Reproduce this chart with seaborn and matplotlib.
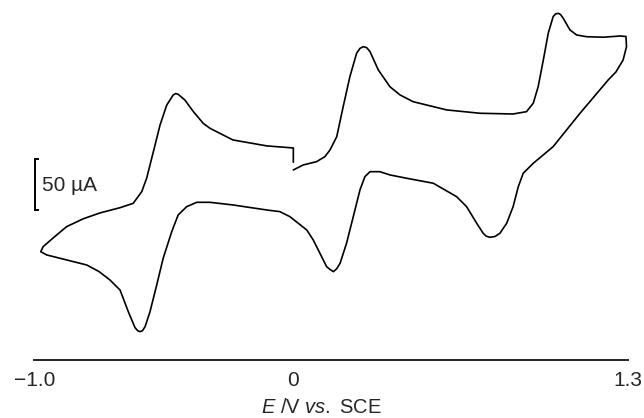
import numpy as np
import pandas as pd
import matplotlib
matplotlib.use("Agg")
import matplotlib.pyplot as plt
import seaborn as sns

# Potential (V vs. SCE) and current (uA), in scan order: start at 0 V, go positive to 1.3 V,
# back to about -0.97 V, then up to 0 V again (pen drop at the end)
E_forward = [0.003, 0.041, 0.093, 0.125, 0.145, 0.171, 0.196, 0.222, 0.248, 0.261,
             0.274, 0.287, 0.300, 0.332, 0.377, 0.416, 0.467, 0.597, 0.726, 0.854,
             0.906, 0.932, 0.951, 0.971, 0.990, 1.009, 1.018, 1.029, 1.038, 1.048,
             1.074, 1.100, 1.139, 1.203, 1.268, 1.291]
I_forward = [29.6, 34.5, 37.8, 42.7, 49.3, 62.4, 92.0, 121.6, 144.7, 149.5,
             151.2, 150.2, 146.3, 128.2, 111.7, 103.6, 96.9, 88.8, 85.5, 84.8,
             87.1, 95.4, 111.7, 138.1, 164.4, 180.8, 183.4, 184.1, 182.8, 179.2,
             167.7, 162.7, 161.0, 160.5, 161.7, 161.2]

E_reverse = [1.293, 1.280, 1.252, 1.222, 1.113, 1.009, 0.932, 0.893, 0.874, 0.854,
             0.829, 0.803, 0.784, 0.764, 0.750, 0.738, 0.713, 0.674, 0.635, 0.545,
             0.442, 0.377, 0.338, 0.300, 0.280, 0.261, 0.235, 0.209, 0.184, 0.171,
             0.158, 0.145, 0.132, 0.106, 0.080, 0.055, -0.010, -0.049, -0.099, -0.231,
             -0.320, -0.371, -0.410, -0.443, -0.468, -0.501, -0.526, -0.552, -0.571, -0.581,
             -0.591, -0.600, -0.610, -0.636, -0.668, -0.707, -0.750, -0.797, -0.952, -0.975]
I_reverse = [151.2, 138.1, 126.2, 118.3, 85.5, 52.6, 36.2, 26.3, 13.1, -6.6,
             -23.0, -32.8, -36.0, -36.8, -35.7, -32.8, -23.0, -6.6, 3.3, 16.5,
             21.4, 24.7, 27.9, 27.9, 23.0, 9.9, -16.5, -42.7, -62.4, -67.8,
             -70.7, -68.5, -65.8, -52.6, -39.4, -29.6, -16.5, -11.5, -9.9, -4.9,
             -2.3, -2.3, -6.6, -14.8, -31.3, -57.5, -83.8, -110.2, -124.9, -128.9,
             -129.9, -128.8, -125.9, -110.2, -88.8, -78.9, -70.5, -64.1, -54.2, -51.0]

E_return = [-0.966, -0.925, -0.875, -0.810, -0.746, -0.668, -0.617, -0.584, -0.565, -0.539,
            -0.513, -0.487, -0.462, -0.452, -0.443, -0.417, -0.384, -0.346, -0.320, -0.231,
            -0.099, 0.003, 0.003]
I_return = [-46.1, -37.0, -26.3, -18.5, -12.8, -7.6, -3.3, 8.2, 21.4, 47.6,
            74.0, 93.7, 103.6, 105.0, 104.2, 98.6, 87.1, 75.6, 70.7, 59.2,
            53.3, 51.3, 37.2]

x_ticks = [-1.0, 0.0, 1.3]
x_ticklabels = ["\u22121.0", "0", "1.3"]
scale_bar_uA = 50

sns.set_style("white")
plt.rcParams["font.family"] = ["Liberation Sans", "DejaVu Sans"]
plt.rcParams["mathtext.fontset"] = "custom"
plt.rcParams["mathtext.rm"] = "Liberation Sans"
plt.rcParams["mathtext.it"] = "Liberation Sans:italic"

df = pd.DataFrame({
    "E": E_forward + E_reverse + E_return,
    "I": I_forward + I_reverse + I_return,
})

fig = plt.figure(figsize=(6.44, 4.18), dpi=100)
ax = fig.add_axes([34.3 / 644, 1 - 360 / 418, 594 / 644, 360 / 418])

sns.lineplot(data=df, x="E", y="I", sort=False, estimator=None, color="black",
             linewidth=1.2, ax=ax)

# 50 uA scale bar
ax.errorbar([-0.997], [15], yerr=[scale_bar_uA / 2], color="black", capsize=3,
            elinewidth=1.4, capthick=1.4)
ax.text(-0.969, 13.8, "50 \u00b5A", fontsize=15, ha="left", va="center")

ax.set_xlim(-1.0, 1.3)
ax.set_ylim(-157.8, 197.2)
ax.set_xticks(x_ticks)
ax.set_xticklabels(x_ticklabels, fontsize=15)
ax.set_yticks([])
ax.set_ylabel("")
ax.set_xlabel(r"$\mathit{E}$ /V $\mathit{vs.}$ SCE", fontsize=14.5)
ax.xaxis.set_label_coords(0.484, -0.105)

for side in ["left", "top", "right"]:
    ax.spines[side].set_visible(False)
ax.spines["bottom"].set_linewidth(1.4)
ax.tick_params(axis="x", direction="out", length=5, width=1.4, pad=3)

fig.savefig("out.png", dpi=100)
